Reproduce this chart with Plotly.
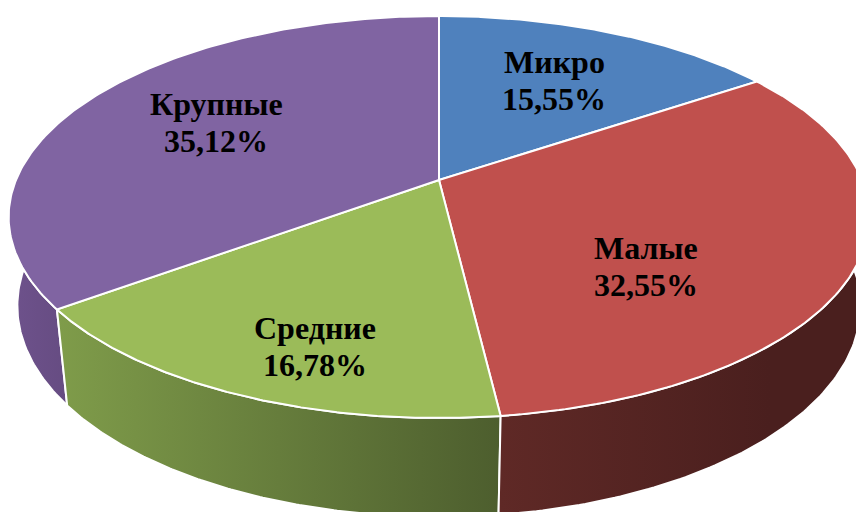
import numpy as np
import plotly.graph_objects as go

# Data
categories = ["Микро", "Малые", "Средние", "Крупные"]
shares = [15.55, 32.55, 16.78, 35.12]

# Styles
top_colors = ["#4F81BD", "#C0504D", "#9BBB59", "#8064A2"]
side_gradients = [
    ("#3B608D", "#3B608D", 439, 760),
    ("#5F2926", "#4A1F1E", 500, 770),
    ("#7F9C4A", "#4D5E2E", 57, 500),
    ("#6E528C", "#664C82", 10, 66),
]
label_centres = [(554, 80), (646, 266), (315, 346), (216, 122)]
LINE_GAP = 37
FONT = dict(family="Liberation Serif", size=32, color="black")

# Perspective geometry of the pie in pixels: (x scale, y scale, centre y, foreshortening)
TOP_FACE = (423, 194.2, 180, 0.184)
BOTTOM_RIM = (415.5, 205, 270, 0.17)
CX = 439


def project(theta, face):
    a, b, cy, k = face
    X, Y = np.sin(theta), np.cos(theta)
    w = 1 + k * Y
    return CX + a * X / w, cy - b * Y / w


edges = np.cumsum([0] + shares) / sum(shares) * 2 * np.pi
fig = go.Figure()

# Sides first (far to near), the top faces then cover their hidden parts
for i in [0, 3, 2, 1]:
    th = np.linspace(edges[i], edges[i + 1], 160)
    xt, yt = project(th, TOP_FACE)
    xb, yb = project(th, BOTTOM_RIM)
    c0, c1, start, stop = side_gradients[i]
    fig.add_trace(go.Scatter(
        x=np.r_[xt, xb[::-1], xt[0]], y=np.r_[yt, yb[::-1], yt[0]],
        mode="lines", fill="toself", hoverinfo="skip", showlegend=False,
        line=dict(color="white", width=2),
        fillgradient=dict(type="horizontal", start=start, stop=stop,
                          colorscale=[[0, c0], [1, c1]]),
    ))

for i, name in enumerate(categories):
    th = np.linspace(edges[i], edges[i + 1], 160)
    xt, yt = project(th, TOP_FACE)
    fig.add_trace(go.Scatter(
        x=np.r_[CX, xt, CX], y=np.r_[TOP_FACE[2], yt, TOP_FACE[2]],
        mode="lines", fill="toself", fillcolor=top_colors[i], name=name,
        showlegend=False, line=dict(color="white", width=2),
    ))

for name, share, (lx, ly) in zip(categories, shares, label_centres):
    pct = f"{share:.2f}%".replace(".", ",")
    for txt, yy in ((name, ly - LINE_GAP / 2), (pct, ly + LINE_GAP / 2)):
        fig.add_annotation(x=lx, y=yy, text=f"<b>{txt}</b>", showarrow=False,
                           font=FONT, xanchor="center", yanchor="middle")

fig.update_layout(
    width=856, height=512, margin=dict(l=0, r=0, t=0, b=0),
    paper_bgcolor="white", plot_bgcolor="white", showlegend=False,
    xaxis=dict(range=[0, 856], visible=False, fixedrange=True),
    yaxis=dict(range=[512, 0], visible=False, fixedrange=True),
)
fig.write_html("out.html", config=dict(displayModeBar=False),
               post_script="document.body.style.margin='0';document.body.style.overflow='hidden';")
